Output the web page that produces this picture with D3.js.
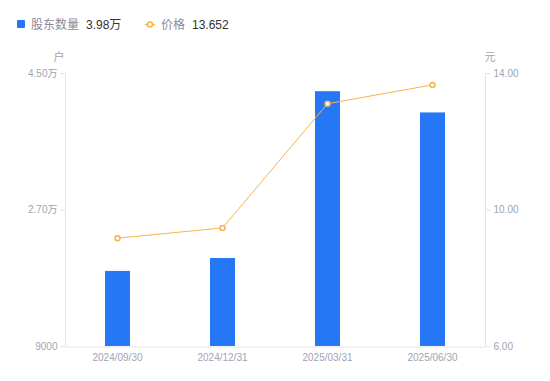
<!DOCTYPE html>
<html>
<head>
<meta charset="utf-8">
<script src="https://cdn.jsdelivr.net/npm/d3@7"></script>
<style>
  body { margin: 0; background: #fff; }
  text { font-family: "Liberation Sans", "Noto Sans CJK SC", sans-serif; }
</style>
</head>
<body>
<script>
// data
var dates = ["2024/09/30", "2024/12/31", "2025/03/31", "2025/06/30"];
var holders = [18900, 20600, 42600, 39800];
var prices = [9.16, 9.46, 13.10, 13.652];
var leftTicks = [9000, 27000, 45000];
var leftTickLabels = ["9000", "2.70万", "4.50万"];
var rightTicks = [6, 10, 14];

var W = 550, H = 381;
var margin = {top: 73, right: 65, bottom: 35, left: 65};
var blue = "#2577f5", orange = "#f7b34a", gray = "#a3a3b3", axisCol = "#e4e4e8";

var svg = d3.select("body").append("svg").attr("width", W).attr("height", H);

var x = d3.scaleBand().domain(dates).range([margin.left, W - margin.right]);
var yL = d3.scaleLinear().domain([9000, 45000]).range([H - margin.bottom, margin.top]);
var yR = d3.scaleLinear().domain([6, 14]).range([H - margin.bottom, margin.top]);

// left axis
var gl = svg.append("g").attr("transform", "translate(" + (margin.left + 0.5) + ",0)")
  .call(d3.axisLeft(yL).tickValues(leftTicks).tickSize(5).tickPadding(3)
    .tickFormat(function(d, i){ return leftTickLabels[i]; }));
gl.select(".domain").attr("stroke", axisCol).attr("d", "M0," + yL(45000) + "V" + yL(9000));
gl.selectAll(".tick line").attr("stroke", axisCol);
gl.selectAll(".tick text").attr("fill", gray).style("font-size", "10px");

// right axis
var gr = svg.append("g").attr("transform", "translate(" + (W - margin.right + 0.5) + ",0)")
  .call(d3.axisRight(yR).tickValues(rightTicks).tickSize(5).tickPadding(3)
    .tickFormat(d3.format(".2f")));
gr.select(".domain").attr("stroke", axisCol).attr("d", "M0," + yR(14) + "V" + yR(6));
gr.selectAll(".tick line").attr("stroke", axisCol);
gr.selectAll(".tick text").attr("fill", gray).style("font-size", "10px");

// x axis
var gx = svg.append("g").attr("transform", "translate(0," + (H - margin.bottom + 0.5) + ")")
  .call(d3.axisBottom(x).tickSize(0).tickPadding(7));
gx.select(".domain").attr("stroke", axisCol);
gx.selectAll(".tick text").attr("fill", gray).style("font-size", "10px");

// unit labels
svg.append("text").attr("x", 59).attr("y", 61).attr("text-anchor", "middle")
  .attr("fill", gray).style("font-size", "11px").text("户");
svg.append("text").attr("x", 490).attr("y", 61).attr("text-anchor", "middle")
  .attr("fill", gray).style("font-size", "11px").text("元");

// bars
var bw = 25;
svg.append("g").selectAll("rect").data(holders).enter().append("rect")
  .attr("x", function(d, i){ return x(dates[i]) + x.bandwidth()/2 - bw/2; })
  .attr("y", function(d){ return yL(d); })
  .attr("width", bw)
  .attr("height", function(d){ return yL(9000) - yL(d); })
  .attr("fill", blue);

// price line
var line = d3.line()
  .x(function(d, i){ return x(dates[i]) + x.bandwidth()/2; })
  .y(function(d){ return yR(d); });
svg.append("path").datum(prices).attr("d", line)
  .attr("fill", "none").attr("stroke", orange).attr("stroke-width", 1);
svg.append("g").selectAll("circle").data(prices).enter().append("circle")
  .attr("cx", function(d, i){ return x(dates[i]) + x.bandwidth()/2; })
  .attr("cy", function(d){ return yR(d); })
  .attr("r", 2.5).attr("fill", "#fff").attr("stroke", orange).attr("stroke-width", 1.5);

// legend
var lg = svg.append("g");
lg.append("rect").attr("x", 17).attr("y", 20).attr("width", 8).attr("height", 8)
  .attr("rx", 1).attr("fill", blue);
lg.append("text").attr("x", 31).attr("y", 29).attr("fill", "#8a8a9a")
  .style("font-size", "12px").text("股东数量");
lg.append("text").attr("x", 86).attr("y", 29).attr("fill", "#333")
  .style("font-size", "12px").text("3.98万");
lg.append("line").attr("x1", 145).attr("x2", 155).attr("y1", 24.5).attr("y2", 24.5)
  .attr("stroke", orange).attr("stroke-width", 1.5);
lg.append("circle").attr("cx", 150).attr("cy", 24.5).attr("r", 2.5)
  .attr("fill", "#fff").attr("stroke", orange).attr("stroke-width", 1.5);
lg.append("text").attr("x", 161).attr("y", 29).attr("fill", "#8a8a9a")
  .style("font-size", "12px").text("价格");
lg.append("text").attr("x", 192).attr("y", 29).attr("fill", "#333")
  .style("font-size", "12px").text("13.652");
</script>
</body>
</html>
